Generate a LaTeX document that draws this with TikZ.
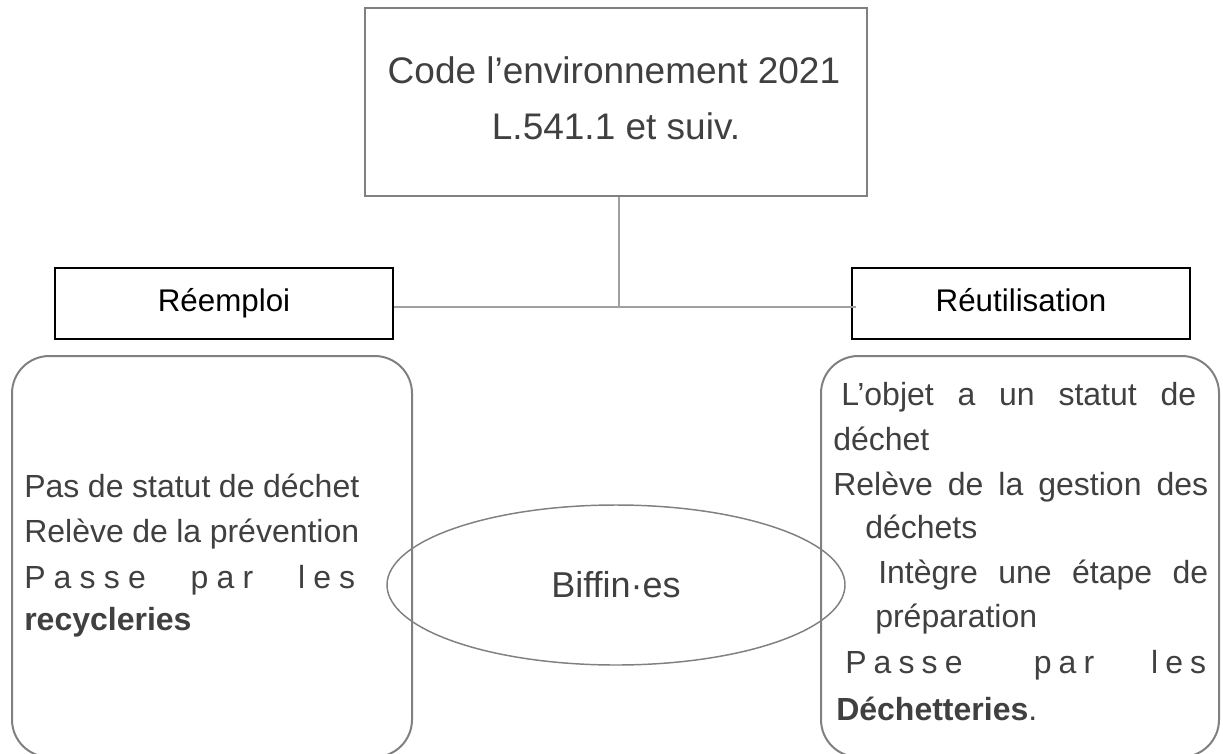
\documentclass[tikz,border=0pt]{standalone}
\usepackage{fontspec}
\setmainfont{Liberation Sans}
\usetikzlibrary{shapes.geometric}
\definecolor{txt}{HTML}{404040}
\definecolor{frame}{HTML}{808080}
\definecolor{conn}{HTML}{A0A0A0}
\begin{document}
\begin{tikzpicture}[x=0.75pt,y=-0.75pt,
  body/.style={anchor=base west, inner sep=0pt, text=txt, font=\fontsize{24pt}{28pt}\selectfont},
  title/.style={anchor=base, inner sep=0pt, text=txt, font=\fontsize{27.75pt}{32pt}\selectfont},
  codebox/.style={draw=frame, line width=1.1pt, inner sep=0pt},
  catbox/.style={draw=black, line width=1.4pt, inner sep=0pt, minimum width=253.5pt, minimum height=53.25pt,
    text height=17pt, text depth=4.9pt, font=\fontsize{23.5pt}{27pt}\selectfont},
  rbox/.style={draw=frame, line width=1.5pt, rounded corners=28pt, inner sep=0pt},
  conline/.style={draw=conn, line width=0.9pt}]
\useasboundingbox (0,0) rectangle (1223,753);
\clip (0,0) rectangle (1223,753);

% top box
\node[codebox, minimum width=376.5pt, minimum height=141pt] (code) at (616,102) {};
\node[title] (c1) at (614,83) {Code l’environnement 2021};
\node[title] (c2) at (616,139) {L.541.1 et suiv.};

% category boxes
\node[catbox] (reemploi) at (224,303.5) {Réemploi};
\node[catbox] (reutil) at (1021,303.5) {Réutilisation};

% connectors
\coordinate (j) at (619,307);
\draw[conline] (code.south -| j) -- (j);
\draw[conline] (reemploi.east |- j) -- ([xshift=3.75pt]reutil.west |- j);

% rounded boxes
\node[rbox, minimum width=300pt, minimum height=300.75pt] (leftbox) at (212,556.5) {};
\node[rbox, minimum width=298.5pt, minimum height=300.75pt] (rightbox) at (1020,556.5) {};

% ellipse
\node[ellipse, draw=frame, line width=1.1pt, minimum width=343.5pt, minimum height=120pt, inner sep=0pt,
  text=txt, font=\fontsize{27pt}{30pt}\selectfont] (biffin) at (616,585) {Biffin·es};

% left text
\node[body] (l1) at (24,497) {\makebox[251.25pt][s]{Pas de statut de déchet}};
\node[body] (l2) at (24,542) {\makebox[251.25pt][s]{Relève de la prévention}};
\node[body] (l3) at (24,588) {\makebox[248.25pt][s]{P\hfill a\hfill s\hfill s\hfill e\hspace{0pt plus 5.5fill}p\hfill a\hfill r\hspace{0pt plus 5.5fill}l\hfill e\hfill s}};
\node[body] (l4) at (24,630) {\textbf{recycleries}};

% right text
\node[body] (r1) at (841,405) {\makebox[266.25pt][s]{L’objet a un statut de}};
\node[body] (r2) at (833,450) {déchet};
\node[body] (r3) at (833,495) {\makebox[281.25pt][s]{Relève de la gestion des}};
\node[body] (r4) at (865,538) {déchets};
\node[body] (r5) at (878,583) {\makebox[247.5pt][s]{Intègre une étape de}};
\node[body] (r6) at (875,627) {préparation};
\node[body] (r7) at (845,673) {\makebox[270.75pt][s]{P\hfill a\hfill s\hfill s\hfill e\hspace{0pt plus 10fill}p\hfill a\hfill r\hspace{0pt plus 8fill}l\hfill e\hfill s}};
\node[body] (r8) at (836,720) {\textbf{Déchetteries}.};
\end{tikzpicture}
\end{document}
